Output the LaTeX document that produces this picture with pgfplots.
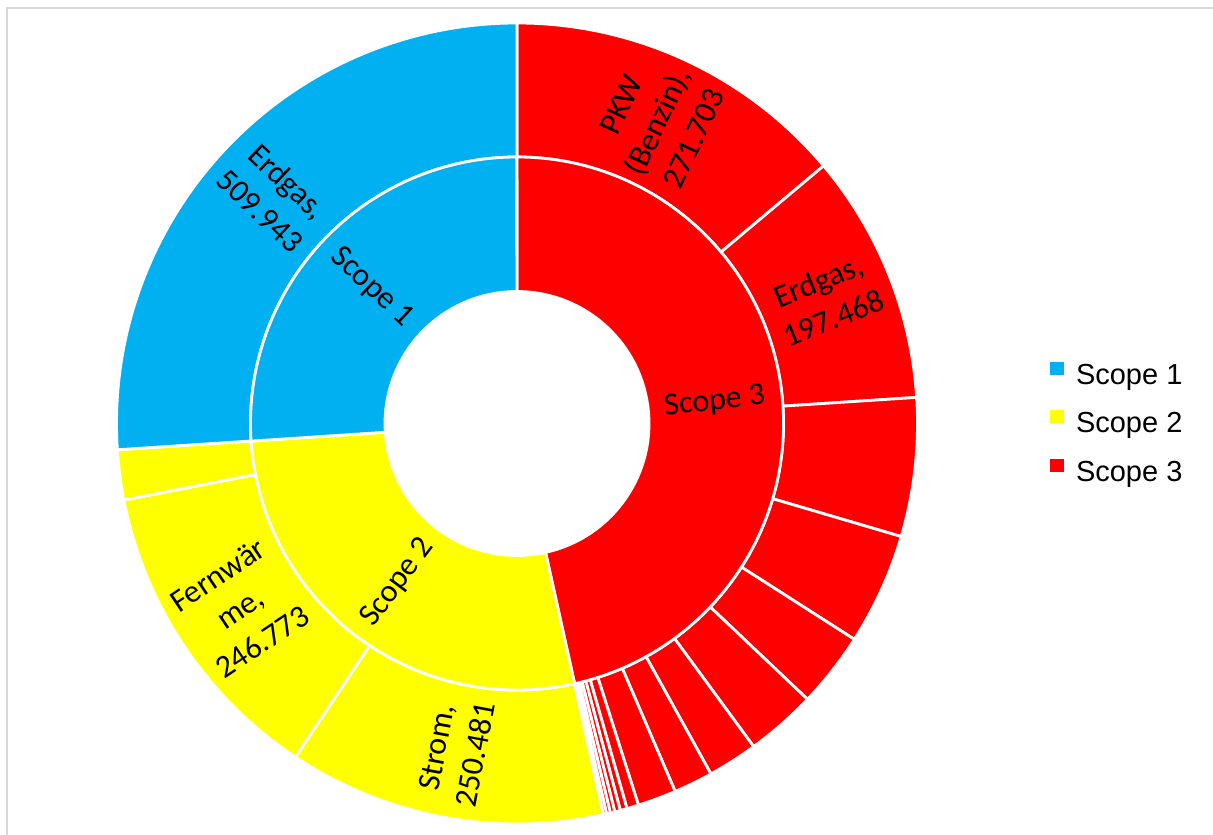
\documentclass[border=0pt]{standalone}
\usepackage{pgfplots}
\pgfplotsset{compat=1.18}
\usepackage{fontspec}
\setmainfont{Carlito}
\newfontfamily\legfont{Liberation Sans}
\definecolor{sone}{HTML}{00B0F0}
\definecolor{stwo}{HTML}{FFFF00}
\definecolor{sthree}{HTML}{FF0000}
\definecolor{framegray}{HTML}{D9D9D9}

% outer ring (clockwise from the top): value / colour / label
\def\outerring{271.703/sthree/{PKW\\(Benzin),\\271.703},
 197.468/sthree/{Erdgas,\\197.468},
 109.5/sthree/{}, 88.2/sthree/{}, 59.3/sthree/{}, 55.8/sthree/{},
 39.5/sthree/{}, 31.0/sthree/{}, 30.5/sthree/{}, 9.3/sthree/{},
 5.4/sthree/{}, 4.4/sthree/{}, 3.6/sthree/{}, 3.0/sthree/{}, 2.6/sthree/{},
 250.481/stwo/{Strom,\\250.481},
 246.773/stwo/{Fernwär\\me,\\246.773},
 39.5/stwo/{},
 509.943/sone/{Erdgas,\\509.943}}
% inner ring
\def\innerring{911.071/sthree/{Scope 3}, 536.754/stwo/{Scope 2}, 509.943/sone/{Scope 1}}

\def\cx{517}\def\cy{410.5}
\def\rHole{132}\def\rMid{266.5}\def\rOut{400.5}
\def\unitpt{0.5}

\xdef\Total{0}
\foreach \val/\col/\lab in \outerring {\pgfmathsetmacro\tmp{\Total+\val}\xdef\Total{\tmp}}

\tikzset{wedge/.style={draw=white, line width=1.4pt, line join=miter},
  lbl/.style={font=\fontsize{16}{20}\selectfont, align=center, inner sep=0pt, text=black}}

% #1 list, #2 inner radius, #3 outer radius, #4 label radius, #5 mode (0 wedges, 1 labels)
\newcommand\ring[5]{%
  \xdef\cum{0}%
  \foreach \val/\col/\lab in #1 {%
    \pgfmathsetmacro\aone{90-\cum/\Total*360}%
    \pgfmathsetmacro\cumnew{\cum+\val}%
    \pgfmathsetmacro\atwo{90-\cumnew/\Total*360}%
    \pgfmathsetmacro\am{(\aone+\atwo)/2}%
    \pgfmathsetmacro\xo{\cx+#3*cos(\aone)}%
    \pgfmathsetmacro\yo{\cy+#3*sin(\aone)}%
    \pgfmathsetmacro\xin{\cx+#2*cos(\atwo)}%
    \pgfmathsetmacro\yin{\cy+#2*sin(\atwo)}%
    \pgfmathsetmacro\ro{#3*\unitpt}%
    \pgfmathsetmacro\ri{#2*\unitpt}%
    \pgfmathsetmacro\xl{\cx+#4*cos(\am)}%
    \pgfmathsetmacro\yl{\cy+#4*sin(\am)}%
    \pgfmathsetmacro\rot{cos(\am)<0 ? \am+180 : \am}%
    \ifnum#5=0
      \edef\cmd{\noexpand\filldraw[wedge, fill=\col] (axis cs:\xo,\yo) arc[start angle=\aone, end angle=\atwo, radius=\ro pt] -- (axis cs:\xin,\yin) arc[start angle=\atwo, end angle=\aone, radius=\ri pt] -- cycle;}%
    \else
      \edef\cmd{\noexpand\node[lbl, rotate=\rot] at (axis cs:\xl,\yl) {\unexpanded\expandafter{\lab}};}%
    \fi
    \cmd
    \xdef\cum{\cumnew}%
  }%
}

\begin{document}
\begin{tikzpicture}
\begin{axis}[
  x=0.5pt, y=0.5pt, xmin=0, xmax=1213, ymin=0, ymax=834,
  hide axis, clip=false, name=ax,
  legend image code/.code={\fill[#1, draw=none] (0pt,1.0pt) rectangle (7pt,7.5pt);},
  legend cell align=left,
  legend style={at={(axis cs:1050,409.5)}, anchor=west, draw=none, fill=none,
    inner sep=0pt, outer sep=0pt, row sep=10pt,
    font=\legfont\fontsize{14.5}{17}\selectfont,
    nodes={inner sep=0pt, text height=10.5pt, text depth=3pt},
    /tikz/every odd column/.append style={column sep=6pt}},
]
\addlegendimage{draw=none, fill=sone}\addlegendentry{Scope 1}
\addlegendimage{draw=none, fill=stwo}\addlegendentry{Scope 2}
\addlegendimage{draw=none, fill=sthree}\addlegendentry{Scope 3}

\draw[framegray, line width=1pt] (axis cs:7,-5) -- (axis cs:7,826) -- (axis cs:1220,826);

\ring{\outerring}{\rMid}{\rOut}{333}{0}
\ring{\innerring}{\rHole}{\rMid}{199}{0}
\ring{\outerring}{\rMid}{\rOut}{333}{1}
\ring{\innerring}{\rHole}{\rMid}{199}{1}
\end{axis}
\pgfresetboundingbox
\useasboundingbox (ax.south west) rectangle (ax.north east);
\end{tikzpicture}
\end{document}
